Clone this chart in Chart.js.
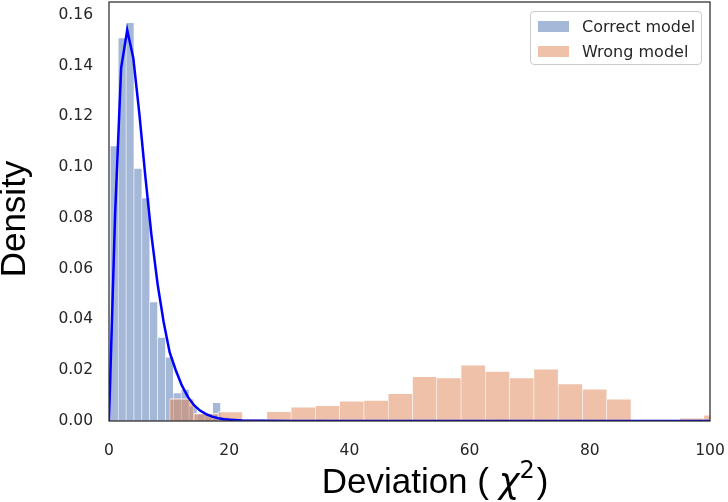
<!DOCTYPE html>
<html>
<head>
<meta charset="utf-8">
<script src="https://cdn.jsdelivr.net/npm/chart.js@4.4.0/dist/chart.umd.min.js"></script>
<style>
  html, body { margin: 0; padding: 0; background: #fff; }
  #wrap { position: relative; width: 728px; height: 502px; }
  #leyenda {
    position: absolute; left: 530px; top: 11px; width: 172px; height: 54px;
    box-sizing: border-box; border: 1px solid #cccccc; border-radius: 4px;
    background: rgba(255,255,255,0.8);
    font: 16px 'DejaVu Sans', sans-serif; color: #262626;
  }
  #leyenda .item { position: absolute; left: 7px; height: 20px; display: flex; align-items: center; white-space: nowrap; }
  #leyenda .parche { width: 31px; height: 11px; margin-right: 13px; box-sizing: border-box; }
</style>
</head>
<body>
<div id="wrap">
  <canvas id="grafico" width="728" height="502"></canvas>
  <div id="leyenda"></div>
</div>
<script>
// histograma "Correct model": centros de bin y densidad
const correctBins = [0.88, 2.19, 3.50, 4.81, 6.12, 7.43, 8.74, 10.05, 11.36, 12.67,
                     13.98, 15.29, 16.60, 17.91, 19.22, 20.53, 34.94, 65.07, 99.13];
const correctDensity = [0.1085, 0.151, 0.157, 0.0996, 0.088, 0.047, 0.033, 0.0253, 0.0112, 0.0126,
                        0.006, 0.003, 0.003, 0.0074, 0.0015, 0.0008, 0.0008, 0.0008, 0.0008];

// histograma "Wrong model"
const wrongBins = [12.12, 16.16, 20.20, 24.24, 28.28, 32.32, 36.36, 40.40, 44.44, 48.48,
                   52.52, 56.56, 60.60, 64.64, 68.68, 72.72, 76.76, 80.80, 84.84, 96.96, 101.00];
const wrongDensity = [0.0088, 0.003, 0.0037, 0.001, 0.0038, 0.0056, 0.0062, 0.0079, 0.0082, 0.0109,
                      0.0176, 0.0171, 0.0221, 0.0197, 0.0171, 0.0205, 0.0147, 0.0127, 0.0087, 0.0012, 0.0024];

// curva ajustada (azul)
const fitX = [0, 1.01, 2.02, 3.03, 4.04, 5.05, 6.06, 7.07, 8.08, 9.09, 10.10, 11.11, 12.12,
              13.13, 14.14, 15.15, 16.16, 17.17, 18.18, 19.19, 20.20, 22.22, 25.25, 30.30, 100];
const fitY = [0, 0.081, 0.139, 0.154, 0.143, 0.121, 0.096, 0.073, 0.054, 0.039, 0.027, 0.020, 0.014,
              0.0095, 0.0062, 0.0041, 0.0027, 0.0017, 0.0011, 0.0007, 0.0005, 0.0002, 0.0001, 0, 0];

const xTicks = [0, 20, 40, 60, 80, 100];
const yTicks = [0, 0.02, 0.04, 0.06, 0.08, 0.10, 0.12, 0.14, 0.16];

const AZUL = 'rgba(76,114,176,0.5)';
const NARANJA = 'rgba(221,132,82,0.5)';
const BORDE_BARRA = 'rgba(255,255,255,0.75)';
const FUENTE_TICKS = { family: 'DejaVu Sans', size: 15.5 };

const puntos = (xs, ys) => xs.map((x, i) => ({ x, y: ys[i] }));
const sinPadding = (s) => { s.paddingLeft = 0; s.paddingRight = 0; s.paddingTop = 0; s.paddingBottom = 0; };

const marcoYTitulos = {
  id: 'marcoYTitulos',
  afterDatasetsDraw(chart) {
    const { ctx, chartArea: a } = chart;
    ctx.save();
    ctx.strokeStyle = '#2b2b2b';
    ctx.lineWidth = 1.25;
    ctx.strokeRect(a.left, a.top, a.right - a.left, a.bottom - a.top);
    ctx.restore();
  },
  afterDraw(chart) {
    const { ctx } = chart;
    ctx.save();
    ctx.fillStyle = '#000';
    // titulo eje y
    ctx.translate(25, 219);
    ctx.rotate(-Math.PI / 2);
    ctx.font = '35px "Liberation Sans"';
    ctx.textAlign = 'center';
    ctx.textBaseline = 'alphabetic';
    ctx.fillText('Density', 0, 0);
    ctx.restore();

    // titulo eje x con chi cuadrado
    const partes = [
      { t: 'Deviation ( ', f: '35px "Liberation Sans"', dy: 0 },
      { t: 'χ', f: 'italic 35px "DejaVu Sans"', dy: 0 },
      { t: '2', f: '24px "DejaVu Sans"', dy: -15 },
      { t: ')', f: '35px "Liberation Sans"', dy: 0 },
    ];
    ctx.save();
    ctx.fillStyle = '#000';
    ctx.textBaseline = 'alphabetic';
    let total = 0;
    partes.forEach(p => { ctx.font = p.f; p.w = ctx.measureText(p.t).width; total += p.w; });
    let x = 434 - total / 2;
    partes.forEach(p => { ctx.font = p.f; ctx.fillText(p.t, x, 493 + p.dy); x += p.w + (p.t === '2' ? 2 : 0); });
    ctx.restore();
  }
};

const barras = (label, bins, dens, eje, color, orden) => ({
  label, data: puntos(bins, dens), xAxisID: eje,
  backgroundColor: color, borderColor: BORDE_BARRA,
  borderWidth: { top: 1, left: 0.6, right: 0.6, bottom: 0 },
  barPercentage: 1, categoryPercentage: 1, grouped: false, order: orden
});

const grafico = new Chart(document.getElementById('grafico'), {
  type: 'bar',
  data: {
    datasets: [
      {
        type: 'line', label: 'fit', data: puntos(fitX, fitY), xAxisID: 'x',
        borderColor: '#0000ff', borderWidth: 2.5, pointRadius: 0, tension: 0, fill: false, order: 0
      },
      barras('Wrong model', wrongBins, wrongDensity, 'x2', NARANJA, 1),
      barras('Correct model', correctBins, correctDensity, 'x', AZUL, 2)
    ]
  },
  options: {
    responsive: false,
    animation: false,
    layout: { padding: { top: 2, right: 18, left: 0, bottom: 0 } },
    plugins: { legend: { display: false }, tooltip: { enabled: false } },
    scales: {
      x: {
        type: 'linear', position: 'bottom', min: 0, max: 100, offset: false,
        grid: { display: false, drawTicks: false }, border: { display: false },
        afterBuildTicks: (s) => { s.ticks = xTicks.map(v => ({ value: v })); },
        ticks: { font: FUENTE_TICKS, color: '#262626', padding: 21, maxRotation: 0 },
        afterFit: (s) => { s.height = 81; sinPadding(s); }
      },
      x2: {
        type: 'linear', position: 'top', min: 0, max: 100, offset: false, display: false,
        grid: { display: false, drawTicks: false }, ticks: { display: false },
        afterBuildTicks: (s) => { s.ticks = xTicks.map(v => ({ value: v })); },
        afterFit: (s) => { s.height = 0; sinPadding(s); }
      },
      y: {
        min: 0, max: 0.165,
        grid: { display: false, drawTicks: false }, border: { display: false },
        afterBuildTicks: (s) => { s.ticks = yTicks.map(v => ({ value: v })); },
        ticks: { font: FUENTE_TICKS, color: '#262626', padding: 16, callback: (v) => Number(v).toFixed(2) },
        afterFit: (s) => { s.width = 109; sinPadding(s); }
      }
    }
  },
  plugins: [marcoYTitulos]
});

// leyenda html a partir de los datasets de barras
function renderLeyenda() {
  const cont = document.getElementById('leyenda');
  const items = grafico.data.datasets.filter(d => d.type !== 'line')
    .sort((a, b) => b.order - a.order);
  cont.innerHTML = items.map((d, i) => `
    <div class="item" style="top:${4 + i * 25}px">
      <span class="parche" style="background:${d.backgroundColor}"></span>${d.label}
    </div>`).join('');
}
renderLeyenda();
</script>
</body>
</html>
